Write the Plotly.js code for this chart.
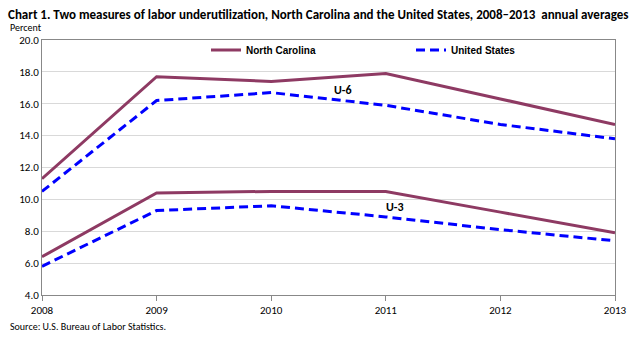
<!DOCTYPE html>
<html><head><meta charset="utf-8">
<script src="https://cdn.plot.ly/plotly-3.0.1.min.js"></script>
<style>html,body{margin:0;padding:0;background:#fff}#c{width:637px;height:342px}</style>
</head><body><div id="c"></div>
<script>
const years = [2008, 2009, 2010, 2011, 2012, 2013];
const ncU6 = [11.3, 17.7, 17.4, 17.9, 16.3, 14.7];
const usU6 = [10.5, 16.2, 16.7, 15.9, 14.7, 13.8];
const ncU3 = [6.4, 10.4, 10.5, 10.5, 9.2, 7.9];
const usU3 = [5.8, 9.3, 9.6, 8.9, 8.1, 7.4];
const yTicks = [4, 6, 8, 10, 12, 14, 16, 18, 20];

const FONT = "Carlito, 'Liberation Sans Narrow', 'Open Sans', sans-serif";
const LEGFONT = "'Liberation Sans', Arial, sans-serif";
const ncColor = '#8E3A63';
const usColor = '#0000FF';
const ncLine = {color: ncColor, width: 3};
const usLine = {color: usColor, width: 3, dash: '9px,5px'};

const traces = [
  {x: years, y: ncU6, mode: 'lines', name: '<b>North Carolina</b>', line: ncLine, legendgroup: 'nc', legend: 'legend'},
  {x: years, y: usU6, mode: 'lines', name: '<b>United States</b>', line: usLine, legendgroup: 'us', legend: 'legend2'},
  {x: years, y: ncU3, mode: 'lines', name: 'North Carolina', line: ncLine, legendgroup: 'nc', showlegend: false},
  {x: years, y: usU3, mode: 'lines', name: 'United States', line: usLine, legendgroup: 'us', showlegend: false}
];

const W = 637, H = 342, L = 42, R = 22, T = 40, B = 47;
const pw = W - L - R, ph = H - T - B;
const px = v => (v - L) / pw;
const py = v => 1 - (v - T) / ph;

const legFont = {family: LEGFONT, size: 10, color: '#000'};
const layout = {
  width: W, height: H,
  margin: {l: L, r: R, t: T, b: B},
  paper_bgcolor: '#fff', plot_bgcolor: '#fff',
  font: {family: FONT, size: 11, color: '#000'},
  title: {text: '<b>Chart 1. Two measures of labor underutilization, North Carolina and the United States, 2008–2013  annual averages</b>',
    font: {family: FONT, size: 13, color: '#000'}, xref: 'container', yref: 'container', x: 8/W, xanchor: 'left', y: 1 - 14/H, yanchor: 'middle'},
  xaxis: {range: [2008, 2013], tickvals: years, ticktext: years.map(String), showgrid: false, zeroline: false,
    showline: true, linecolor: '#888', linewidth: 1, mirror: true, ticks: 'outside', ticklen: 5, tickcolor: '#888',
    tickfont: {family: FONT, size: 11, color: '#000'}, fixedrange: true},
  yaxis: {range: [4, 20], tickvals: yTicks, tickformat: '.1f', showgrid: true, gridcolor: '#d9d9d9', gridwidth: 1,
    zeroline: false, showline: true, linecolor: '#888', linewidth: 1, mirror: true, ticks: '',
    tickfont: {family: FONT, size: 11, color: '#000'}, fixedrange: true},
  showlegend: true,
  legend: {orientation: 'h', x: px(206), xanchor: 'left', y: py(50), yanchor: 'middle',
    font: legFont, bgcolor: 'rgba(0,0,0,0)', itemwidth: 30},
  legend2: {orientation: 'h', x: px(411), xanchor: 'left', y: py(50), yanchor: 'middle',
    font: legFont, bgcolor: 'rgba(0,0,0,0)', itemwidth: 30},
  annotations: [
    {text: 'Percent', xref: 'paper', yref: 'paper', x: px(8), y: py(28), xanchor: 'left', yanchor: 'middle', showarrow: false, font: {family: FONT, size: 10, color: '#000'}},
    {text: 'Source: U.S. Bureau of Labor Statistics.', xref: 'paper', yref: 'paper', x: px(8), y: py(326), xanchor: 'left', yanchor: 'middle', showarrow: false, font: {family: FONT, size: 10, color: '#000'}},
    {text: '<b>U-6</b>', xref: 'x', yref: 'y', x: 2010.63, y: 16.85, xanchor: 'center', yanchor: 'middle', showarrow: false, font: {family: FONT, size: 12, color: '#000'}},
    {text: '<b>U-3</b>', xref: 'x', yref: 'y', x: 2011.08, y: 9.5, xanchor: 'center', yanchor: 'middle', showarrow: false, font: {family: FONT, size: 12, color: '#000'}}
  ]
};

Plotly.newPlot('c', traces, layout, {displayModeBar: false, staticPlot: true});
</script></body></html>
